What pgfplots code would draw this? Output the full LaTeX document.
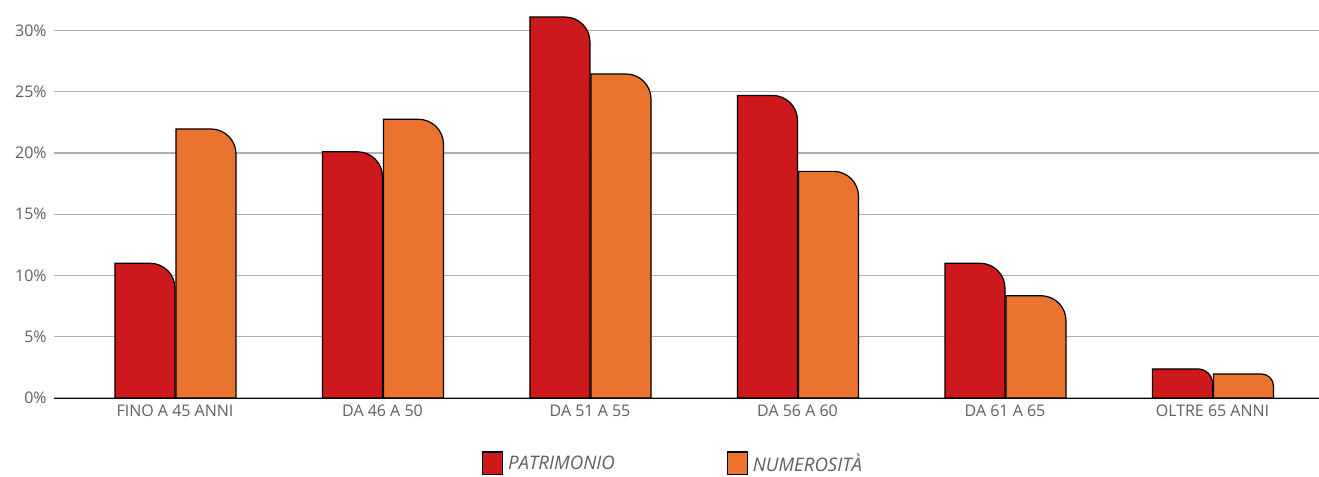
\documentclass[border=0pt]{standalone}
\usepackage{pgfplots}
\pgfplotsset{compat=1.18}
\usepackage{fontspec}
\setmainfont{Open Sans}
\definecolor{cred}{RGB}{205,25,27}
\definecolor{corange}{RGB}{234,115,48}
\definecolor{tgray}{RGB}{95,95,95}
\definecolor{ggray}{RGB}{175,175,175}
\pgfdeclareplotmark{emptymark}{}
\pgfplotsset{
  roundbar/.style n args={2}{%
    scatter, only marks, mark=emptymark, forget plot,
    visualization depends on={rawy \as \barval},
    scatter/@pre marker code/.code={%
      \pgfmathsetmacro\barh{\barval*9.1875}%
      \pgfmathsetmacro\barr{min(18.75,\barh/2)}%
      \pgfmathsetmacro\barR{#2+45}%
      \pgfmathsetmacro\barRr{\barR-\barr}%
      \draw[fill=#1, draw=black, line width=0.9pt]
        (#2pt,-\barh pt) -- (#2pt,0pt) -- (\barRr pt,0pt)
        arc[start angle=90,end angle=0,radius=\barr pt]
        -- (\barR pt,-\barh pt) -- cycle;
    },
    scatter/@post marker code/.code={},
  },
}
\begin{document}
\begin{tikzpicture}
\begin{axis}[
  name=ax,
  scale only axis,
  x=155.625pt, y=9.1875pt,
  xmin=-0.5831, xmax=5.5133,
  ymin=0, ymax=32.49,
  clip=false,
  axis x line*=bottom,
  axis y line*=left,
  y axis line style={draw=none},
  x axis line style={draw=black, line width=0.75pt},
  major tick length=0pt,
  xtick={0,1,2,3,4,5},
  xticklabels={FINO A 45 ANNI, DA 46 A 50, DA 51 A 55, DA 56 A 60, DA 61 A 65, OLTRE 65 ANNI},
  ytick={0,5,10,15,20,25,30},
  yticklabels={0\%,5\%,10\%,15\%,20\%,25\%,30\%},
  ymajorgrids,
  grid style={ggray, line width=0.8pt},
  tick label style={font=\fontsize{12}{14}\selectfont, text=tgray},
  xticklabel style={yshift=-2pt},
  yticklabel style={xshift=-2pt},
  legend columns=2,
  legend style={draw=none, fill=none, at={(axis description cs:0.3383,-0.1640)}, anchor=west,
    inner sep=0pt, font=\fontsize{14}{16}\selectfont\itshape, text=tgray,
    /tikz/every odd column/.append style={column sep=1.5pt},
    /tikz/every even column/.append style={column sep=82pt}},
  legend image code/.code={\draw[#1, line width=0.9pt] (0pt,-8.5pt) rectangle (15pt,8.5pt);},
]
\addlegendimage{fill=cred, draw=black}
\addlegendentry{PATRIMONIO}
\addlegendimage{fill=corange, draw=black}
\addlegendentry{NUMEROSITÀ}
\addplot[roundbar={cred}{-45}] coordinates {(0,11.0) (1,20.1) (2,31.1) (3,24.7) (4,11.0) (5,2.37)};
\addplot[roundbar={corange}{0.75}] coordinates {(0,21.96) (1,22.75) (2,26.45) (3,18.5) (4,8.35) (5,1.96)};
\end{axis}
\pgfresetboundingbox
\path[use as bounding box] ([shift={(-40.5pt,-58.5pt)}]ax.south west) rectangle (ax.north east);
\end{tikzpicture}
\end{document}
